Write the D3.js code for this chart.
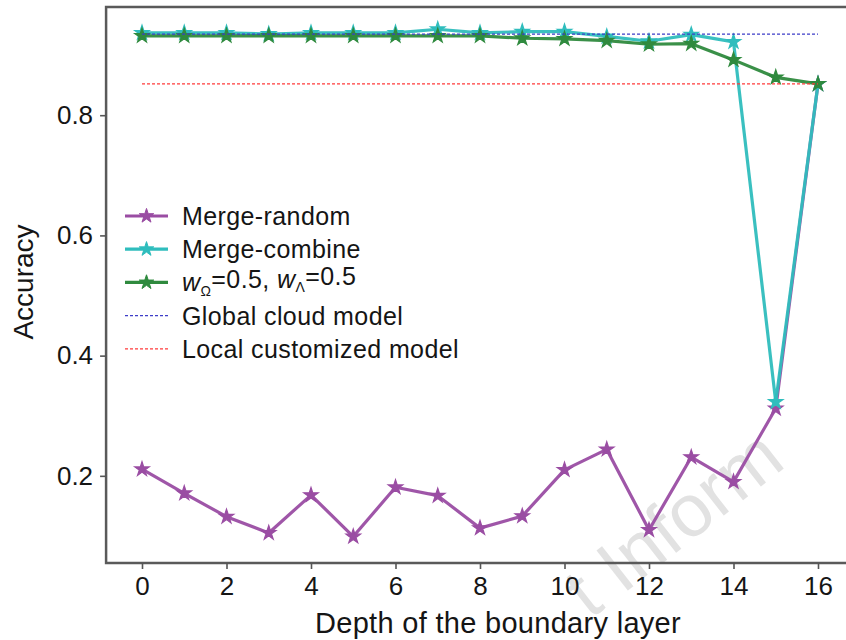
<!DOCTYPE html>
<html><head><meta charset="utf-8">
<script src="https://cdn.jsdelivr.net/npm/d3@7/dist/d3.min.js"></script>
<style>
body{margin:0;background:#fff}
text{font-family:Arial,"Liberation Sans",sans-serif;fill:#151515}
</style>
</head><body><svg id="c" width="846" height="640"></svg>
<script>
// ---- data ----
const depths = [0,1,2,3,4,5,6,7,8,9,10,11,12,13,14,15,16];
const mergeRandom  = [0.211,0.171,0.132,0.105,0.168,0.099,0.181,0.167,0.113,0.133,0.210,0.244,0.110,0.231,0.190,0.312,0.852];
const mergeCombine = [0.937,0.937,0.937,0.935,0.937,0.937,0.937,0.943,0.937,0.939,0.939,0.931,0.923,0.934,0.922,0.323,0.852];
const weighted     = [0.932,0.932,0.932,0.932,0.932,0.932,0.932,0.932,0.932,0.928,0.927,0.924,0.918,0.919,0.892,0.863,0.852];
const globalCloud = 0.935;
const localCustom = 0.852;
const xTicks = [0,2,4,6,8,10,12,14,16];
const yTicks = [0.2,0.4,0.6,0.8];
const seriesNames = ["Merge-random","Merge-combine"];
const refNames = ["Global cloud model","Local customized model"];

// ---- drawing ----
const svg = d3.select("#c");
const x = d3.scaleLinear().domain([0,16]).range([142,818]);
const y = d3.scaleLinear().domain([0.055,0.98]).range([563,7]);

// faint watermark (visible part)
svg.append("text").attr("transform","translate(590,620) rotate(-38)")
  .style("font-size","74px").style("fill","#e2e2e2").text("t Inform");

// frame
svg.append("path").attr("d",`M850,${y.range()[1]}H${x(-0.85)}V${y.range()[0]}H850`)
  .attr("fill","none").attr("stroke","#5a5a5a").attr("stroke-width",2.5);

const xAxis = svg.append("g").attr("transform",`translate(0,${y.range()[0]})`)
  .call(d3.axisBottom(x).tickValues(xTicks).tickSize(6).tickPadding(8).tickFormat(d3.format("d")));
const yAxis = svg.append("g").attr("transform",`translate(${x(-0.85)},0)`)
  .call(d3.axisLeft(y).tickValues(yTicks).tickSize(6).tickPadding(7).tickFormat(d3.format(".1f")));
[xAxis,yAxis].forEach(g=>{
  g.select(".domain").remove();
  g.selectAll(".tick line").attr("stroke","#555").attr("stroke-width",1.6);
  g.selectAll(".tick text").style("font-size","26px").style("font-family","Arial,'Liberation Sans',sans-serif").attr("fill","#151515");
});

svg.append("text").attr("x",498).attr("y",633).attr("text-anchor","middle")
  .style("font-size","29px").style("letter-spacing","0.3px").text("Depth of the boundary layer");
svg.append("text").attr("transform","translate(33,282) rotate(-90)").attr("text-anchor","middle")
  .style("font-size","28px").text("Accuracy");

const colors = ["#9a4da3","#2fbdbd","#2f8a3e"];
const refColors = ["#3d3dc8","#ff3b3b"];
const line = d3.line().x((d,i)=>x(depths[i])).y(d=>y(d));
const star = d3.symbol().type(d3.symbolStar).size(65);

function refLine(v,c){
  svg.append("line").attr("x1",x(depths[0])).attr("x2",x(depths[depths.length-1]))
    .attr("y1",y(v)).attr("y2",y(v)).attr("stroke",c).attr("stroke-width",1.3)
    .attr("stroke-dasharray","3,2");
}

[mergeRandom,mergeCombine,weighted].forEach((s,k)=>{
  svg.append("path").attr("d",line(s)).attr("fill","none").attr("stroke",colors[k])
    .attr("stroke-width",3.2).attr("stroke-linejoin","round").attr("opacity",0.95);
  svg.append("g").selectAll("path").data(s).join("path")
    .attr("transform",(d,i)=>`translate(${x(depths[i])},${y(d)})`)
    .attr("d",star).attr("fill",colors[k]).attr("stroke",colors[k]).attr("stroke-width",1.2);
});
refLine(globalCloud,refColors[0]);
refLine(localCustom,refColors[1]);

// legend
const lgX0 = 125, lgX1 = 168, lgT = 182, lgY0 = 216, lgDy = 33.2;
[0,1,2].forEach(k=>{
  const yy = lgY0 + k*lgDy;
  svg.append("line").attr("x1",lgX0).attr("x2",lgX1).attr("y1",yy).attr("y2",yy)
    .attr("stroke",colors[k]).attr("stroke-width",3.2);
  svg.append("path").attr("transform",`translate(${(lgX0+lgX1)/2},${yy})`).attr("d",star)
    .attr("fill",colors[k]).attr("stroke",colors[k]);
});
[0,1].forEach(k=>{
  const yy = lgY0 + (k+3)*lgDy;
  svg.append("line").attr("x1",lgX0).attr("x2",lgX1).attr("y1",yy).attr("y2",yy)
    .attr("stroke",refColors[k]).attr("stroke-width",1.2).attr("stroke-dasharray","3,2");
});
const lt = (k)=>svg.append("text").attr("x",lgT).attr("y",lgY0+k*lgDy).attr("dy","0.36em")
  .style("font-size","25px").style("letter-spacing","0.4px");
lt(0).text(seriesNames[0]);
lt(1).text(seriesNames[1]);
const t3 = lt(2);
t3.append("tspan").style("font-style","italic").text("w");
t3.append("tspan").style("font-size","14px").attr("dy","0.3em").text("Ω");
t3.append("tspan").attr("dy","-0.3em").text("=0.5,  ");
t3.append("tspan").style("font-style","italic").text("w");
t3.append("tspan").style("font-size","14px").attr("dy","0.3em").text("Λ");
t3.append("tspan").attr("dy","-0.3em").text("=0.5");
lt(3).text(refNames[0]);
lt(4).text(refNames[1]);
</script></body></html>
